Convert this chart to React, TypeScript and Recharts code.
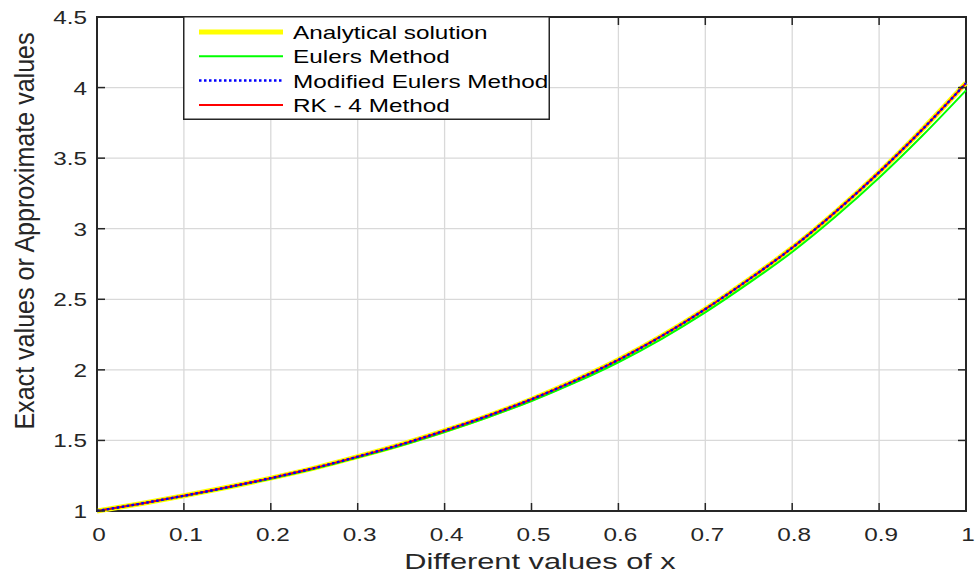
import React from "react";
import {
  LineChart,
  Line,
  XAxis,
  YAxis,
  CartesianGrid,
  ReferenceArea,
  Legend,
} from "recharts";

const xValues = [0, 0.05, 0.1, 0.15, 0.2, 0.25, 0.3, 0.35, 0.4, 0.45, 0.5, 0.55, 0.6, 0.65, 0.7, 0.75, 0.8, 0.85, 0.9, 0.95, 1.0];
const analytical = [1.0, 1.052, 1.108, 1.168, 1.233, 1.304, 1.385, 1.472, 1.569, 1.675, 1.792, 1.924, 2.071, 2.24, 2.43, 2.64, 2.865, 3.12, 3.4, 3.705, 4.032];
const euler = [1.0, 1.051, 1.106, 1.165, 1.229, 1.299, 1.379, 1.464, 1.56, 1.664, 1.779, 1.909, 2.054, 2.22, 2.407, 2.614, 2.835, 3.086, 3.361, 3.66, 3.98];
const modifiedEuler = [1.0, 1.052, 1.108, 1.168, 1.233, 1.304, 1.385, 1.472, 1.569, 1.675, 1.792, 1.924, 2.071, 2.24, 2.43, 2.64, 2.865, 3.12, 3.4, 3.705, 4.031];
const rk4 = [1.0, 1.052, 1.108, 1.168, 1.233, 1.304, 1.385, 1.472, 1.569, 1.675, 1.792, 1.924, 2.071, 2.24, 2.43, 2.64, 2.865, 3.12, 3.4, 3.705, 4.032];

const xTicks = [0, 0.1, 0.2, 0.3, 0.4, 0.5, 0.6, 0.7, 0.8, 0.9, 1];
const yTicks = [1, 1.5, 2, 2.5, 3, 3.5, 4, 4.5];
const seriesNames = ["Analytical solution", "Eulers Method", "Modified Eulers Method", "RK - 4 Method"];

const data = xValues.map((x, i) => ({
  x,
  analytical: analytical[i],
  euler: euler[i],
  modified: modifiedEuler[i],
  rk4: rk4[i],
}));

const FONT = "'Liberation Sans', Arial, Helvetica, sans-serif";
const TEXT = "#262626";
const AXIS = "#262626";
const SX = 1.28;

const PL = 97;
const PR = 966;
const PT = 17;
const PB = 511;
const TICK_M = 10;

const XTick = (props: any) => {
  const { x, y, payload } = props;
  const cx = x;
  return (
    <g>
      <line x1={cx} x2={cx} y1={PB} y2={PB - 8} stroke={AXIS} strokeWidth={1.5} />
      <line x1={cx} x2={cx} y1={PT} y2={PT + 8} stroke={AXIS} strokeWidth={1.5} />
      <text
        transform={`translate(${cx + 2},${y + 20}) scale(${SX},1)`}
        x={0}
        y={0}
        textAnchor="middle"
        fontFamily={FONT}
        fontSize={19}
        fill={TEXT}
      >
        {String(payload.value)}
      </text>
    </g>
  );
};

const YTick = (props: any) => {
  const { x, y, payload } = props;
  return (
    <g>
      <line x1={PL} x2={PL + 8} y1={y} y2={y} stroke={AXIS} strokeWidth={1.5} />
      <line x1={PR - 8} x2={PR} y1={y} y2={y} stroke={AXIS} strokeWidth={1.5} />
      <text
        transform={`translate(${x},${y + 7}) scale(${SX},1)`}
        x={0}
        y={0}
        textAnchor="end"
        fontFamily={FONT}
        fontSize={19}
        fill={TEXT}
      >
        {String(payload.value)}
      </text>
    </g>
  );
};

const legendStyles = [
  { color: "#ffff00", width: 5, dash: undefined as string | undefined },
  { color: "#00ff00", width: 2, dash: undefined },
  { color: "#0000ff", width: 2.5, dash: "2.5 2.5" },
  { color: "#ff0000", width: 2, dash: undefined },
];

const LegendBox = () => (
  <svg width={367} height={104} style={{ display: "block" }}>
    <rect x={0.75} y={0.75} width={365.5} height={102.5} fill="#ffffff" stroke={AXIS} strokeWidth={1.5} />
    {seriesNames.map((name, i) => {
      const cy = 16 + i * 24.3;
      const s = legendStyles[i];
      return (
        <g key={name}>
          <line x1={16} x2={100} y1={cy} y2={cy} stroke={s.color} strokeWidth={s.width} strokeDasharray={s.dash} />
          <text
            transform={`translate(110,${cy + 7}) scale(${SX},1)`}
            x={0}
            y={0}
            fontFamily={FONT}
            fontSize={19}
            fill="#000000"
          >
            {name}
          </text>
        </g>
      );
    })}
  </svg>
);

const YLabel = () => (
  <text
    transform={`translate(34,231) rotate(-90) scale(1.14,1.22)`}
    x={0}
    y={0}
    textAnchor="middle"
    fontFamily={FONT}
    fontSize={22}
    fill={TEXT}
  >
    Exact values or Approximate values
  </text>
);

const XLabel = () => (
  <text
    transform={`translate(540,569) scale(1.4,1)`}
    x={0}
    y={0}
    textAnchor="middle"
    fontFamily={FONT}
    fontSize={22}
    fill={TEXT}
  >
    Different values of x
  </text>
);

export default function App() {
  return (
    <div style={{ position: "absolute", left: 0, top: 0, width: 976, height: 577, background: "#ffffff" }}>
      <LineChart width={976} height={577} data={data} margin={{ top: PT, right: 976 - PR, bottom: 0, left: 0 }}>
        <CartesianGrid stroke="#d9d9d9" strokeWidth={1.3} />
        <XAxis
          dataKey="x"
          type="number"
          domain={[0, 1]}
          ticks={xTicks}
          height={577 - PB}
          tickSize={0}
          tickMargin={TICK_M}
          tick={<XTick />}
          axisLine={false}
          interval={0}
          label={<XLabel />}
        />
        <YAxis
          type="number"
          domain={[1, 4.5]}
          ticks={yTicks}
          width={PL}
          tickSize={0}
          tickMargin={TICK_M}
          tick={<YTick />}
          axisLine={false}
          interval={0}
          label={<YLabel />}
        />
        <Line dataKey="analytical" name={seriesNames[0]} type="monotone" stroke="#ffff00" strokeWidth={5} dot={false} isAnimationActive={false} />
        <Line dataKey="euler" name={seriesNames[1]} type="monotone" stroke="#00ff00" strokeWidth={2} dot={false} isAnimationActive={false} />
        <Line dataKey="rk4" name={seriesNames[3]} type="monotone" stroke="#ff0000" strokeWidth={2} dot={false} isAnimationActive={false} />
        <Line dataKey="modified" name={seriesNames[2]} type="monotone" stroke="#0000ff" strokeWidth={2.5} strokeDasharray="2.5 2.5" dot={false} isAnimationActive={false} />
        <ReferenceArea x1={0} x2={1} y1={1} y2={4.5} fill="none" fillOpacity={0} stroke={AXIS} strokeWidth={2} ifOverflow="visible" />
        <Legend
          layout="vertical"
          align="center"
          verticalAlign="middle"
          content={<LegendBox />}
          wrapperStyle={{ position: "absolute", left: 183, top: 16, width: 367, height: 104 }}
        />
      </LineChart>
    </div>
  );
}
